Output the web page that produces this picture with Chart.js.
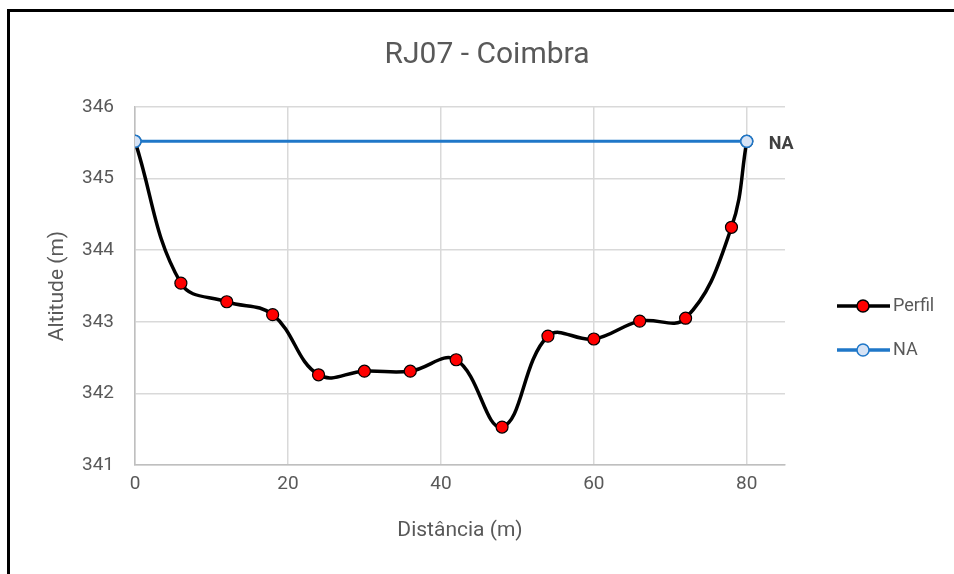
<!DOCTYPE html>
<html>
<head>
<meta charset="utf-8">
<script src="https://cdn.jsdelivr.net/npm/chart.js@4"></script>
<style>
html,body{margin:0;padding:0;background:#fff;overflow:hidden;}
canvas{display:block;}
</style>
</head>
<body>
<canvas id="c" width="954" height="574"></canvas>
<script>
const distances = [0, 6, 12, 18, 24, 30, 36, 42, 48, 54, 60, 66, 72, 78, 80];
const perfil = [345.52, 343.54, 343.28, 343.10, 342.26, 342.31, 342.31, 342.47, 341.53, 342.80, 342.76, 343.01, 343.05, 344.32, 345.52];
const naDistances = [0, 80];
const naLevel = [345.52, 345.52];
const xTicks = [0, 20, 40, 60, 80];
const yTicks = [341, 342, 343, 344, 345, 346];
const chartTitle = 'RJ07 - Coimbra';

const FONT = "'Liberation Sans Narrow', 'Roboto', sans-serif";
const GREY = '#595959';

const perfilData = distances.map((d, i) => ({x: d, y: perfil[i]}));
const naData = naDistances.map((d, i) => ({x: d, y: naLevel[i]}));

const extras = {
  id: 'extras',
  afterDraw(chart) {
    const ctx = chart.ctx;
    const xs = chart.scales.x, ys = chart.scales.y;
    ctx.save();
    // frame
    ctx.strokeStyle = '#000';
    ctx.lineWidth = 3;
    ctx.beginPath();
    ctx.moveTo(8.5, 574);
    ctx.lineTo(8.5, 10.5);
    ctx.lineTo(954, 10.5);
    ctx.stroke();
    // title
    ctx.font = "30px " + FONT;
    ctx.fillStyle = GREY;
    ctx.textAlign = 'center';
    ctx.textBaseline = 'middle';
    ctx.fillText(chartTitle, 487, 55);
    // NA data label
    ctx.font = "bold 18px " + FONT;
    ctx.fillStyle = '#404040';
    ctx.textBaseline = 'middle';
    ctx.textAlign = 'left';
    ctx.fillText('NA', xs.getPixelForValue(naDistances[1]) + 22, ys.getPixelForValue(naLevel[1]) + 3);
    // legend
    const items = [
      {label: 'Perfil', line: '#000000', fill: '#ff0000', stroke: '#000000', y: 306},
      {label: 'NA', line: '#1f77c8', fill: '#d6e3f5', stroke: '#1f77c8', y: 350}
    ];
    items.forEach(it => {
      ctx.strokeStyle = it.line;
      ctx.lineWidth = 3.5;
      ctx.beginPath();
      ctx.moveTo(837, it.y);
      ctx.lineTo(890, it.y);
      ctx.stroke();
      ctx.beginPath();
      ctx.arc(863, it.y, 6, 0, Math.PI * 2);
      ctx.fillStyle = it.fill;
      ctx.fill();
      ctx.lineWidth = 1.5;
      ctx.strokeStyle = it.stroke;
      ctx.stroke();
      ctx.font = "18px " + FONT;
      ctx.fillStyle = GREY;
      ctx.textAlign = 'left';
      ctx.textBaseline = 'middle';
      ctx.fillText(it.label, 893, it.y);
    });
    ctx.restore();
  }
};

new Chart(document.getElementById('c'), {
  type: 'scatter',
  data: {
    datasets: [
      {
        label: 'NA',
        data: naData,
        showLine: true,
        borderColor: '#1f77c8',
        borderWidth: 3,
        pointBackgroundColor: '#d6e3f5',
        pointBorderColor: '#1f77c8',
        pointBorderWidth: 1.5,
        pointRadius: 6,
        tension: 0,
        order: 1
      },
      {
        label: 'Perfil',
        data: perfilData,
        showLine: true,
        borderColor: '#000000',
        borderWidth: 3.5,
        pointBackgroundColor: '#ff0000',
        pointBorderColor: '#000000',
        pointBorderWidth: 1.2,
        pointRadius: 6,
        tension: 0.4,
        order: 2
      }
    ]
  },
  options: {
    responsive: false,
    animation: false,
    events: [],
    layout: {padding: {left: 0, right: 169, top: 107, bottom: 0}},
    plugins: {
      legend: {display: false},
      tooltip: {enabled: false},
      title: {display: false}
    },
    scales: {
      x: {
        type: 'linear',
        min: 0,
        max: 85,
        afterBuildTicks(s) { s.ticks = xTicks.map(v => ({value: v})); },
        afterFit(s) { s.height = 109; },
        grid: {color: '#d9d9d9', lineWidth: 1.5, drawTicks: false},
        border: {color: '#bfbfbf', width: 1.5},
        ticks: {color: GREY, font: {family: FONT, size: 19}, padding: 8},
        title: {display: true, text: 'Distância (m)', color: GREY, font: {family: FONT, size: 21}, padding: {top: 4, bottom: 31}}
      },
      y: {
        min: 341,
        max: 346,
        afterBuildTicks(s) { s.ticks = yTicks.map(v => ({value: v})); },
        afterFit(s) { s.width = 135; },
        grid: {color: '#d9d9d9', lineWidth: 1.5, drawTicks: false},
        border: {color: '#bfbfbf', width: 1.5},
        ticks: {color: GREY, font: {family: FONT, size: 19}, padding: 21},
        title: {display: true, text: 'Altitude (m)', color: GREY, font: {family: FONT, size: 21}, padding: {top: 45, bottom: 4}}
      }
    }
  },
  plugins: [extras]
});
</script>
</body>
</html>
